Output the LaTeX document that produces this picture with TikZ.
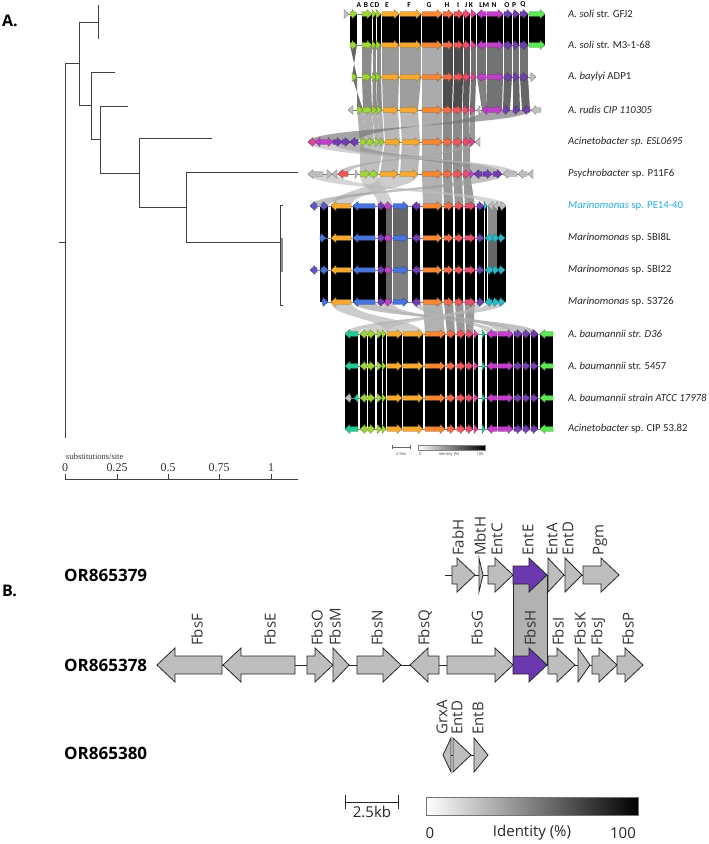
\documentclass[tikz,border=0pt]{standalone}
\usepackage{fontspec}
\setmainfont{Open Sans}
\newfontfamily\lab{Carlito}
\newfontfamily\tms{Liberation Serif}
\definecolor{lg}{RGB}{160,212,60}
\definecolor{oe}{RGB}{246,170,50}
\definecolor{og}{RGB}{246,135,55}
\definecolor{ch}{RGB}{243,110,70}
\definecolor{ci}{RGB}{238,88,88}
\definecolor{cj}{RGB}{232,78,110}
\definecolor{ck}{RGB}{222,70,150}
\definecolor{mg}{RGB}{192,64,200}
\definecolor{pu}{RGB}{112,62,175}
\definecolor{bg}{RGB}{95,232,85}
\definecolor{tq}{RGB}{40,200,150}
\definecolor{cy}{RGB}{40,185,200}
\definecolor{bl}{RGB}{70,115,220}
\definecolor{vi}{RGB}{95,85,195}
\definecolor{gy}{RGB}{190,190,190}
\definecolor{mcyan}{RGB}{41,171,226}
\definecolor{bgray}{RGB}{190,190,190}
\definecolor{bpur}{RGB}{108,56,175}

\newcommand\mkgene[7]{%
  \pgfmathsetmacro\gnL{abs((#2)-(#1))}%
  \pgfmathsetmacro\gnH{min(#7,\gnL)}%
  \pgfmathsetmacro\gnB{(#2)>(#1) ? (#2)-\gnH : (#2)+\gnH}%
  \filldraw[#4] (#1,#3-#5) -- (\gnB,#3-#5) -- (\gnB,#3-#6) -- (#2,#3) -- (\gnB,#3+#6) -- (\gnB,#3+#5) -- (#1,#3+#5) -- cycle;}
\newcommand\agene[4]{\mkgene{#1}{#2}{#3}{fill=#4,draw=#4!65!black,line width=0.3pt}{2.3}{4.5}{5}}
\newcommand\bgene[4]{\mkgene{#1}{#2}{#3}{fill=#4,draw=black!85,line width=0.8pt,line join=miter}{9}{17}{18}}
\newcommand\arow[2]{\foreach \a/\b/\c in {#2} {\agene{\a}{\b}{#1}{\c}}}
\newcommand\mkbands[3]{\foreach \a/\b/\c/\d/\s in {#3} {\fill[black!\s] (\a,#1) -- (\b,#1) -- (\d,#2) -- (\c,#2) -- cycle;}}
\newcommand\mkribs[3]{\foreach \a/\b/\c/\d/\s in {#3} {\fill[black!\s,opacity=0.65] (\a,#1) .. controls (\a,#1/2+#2/2) and (\c,#1/2+#2/2) .. (\c,#2) -- (\d,#2) .. controls (\d,#1/2+#2/2) and (\b,#1/2+#2/2) .. (\b,#1) -- cycle;}}

\begin{document}
\begin{tikzpicture}[x=1pt,y=-1pt,
  tree/.style={draw=black!75,line width=0.9pt},
  bb/.style={draw=black!50,line width=0.4pt},
  lbl/.style={anchor=west,inner sep=0,font=\lab\fontsize{10.7}{12}\selectfont,text=black!85},
  hdr/.style={inner sep=0,font=\lab\bfseries\fontsize{7.5}{8}\selectfont},
  glab/.style={rotate=90,anchor=west,inner sep=0,font=\fontsize{15}{18}\selectfont,text=black!80},
  orlab/.style={anchor=west,inner sep=0,font=\bfseries\fontsize{17}{20}\selectfont},
  panel/.style={anchor=west,inner sep=0,font=\bfseries\fontsize{16}{19}\selectfont}]
\useasboundingbox (0,0) rectangle (709,844);

% ---------------- Panel A ----------------
\node[panel] (pa) at (2,21) {A.};

% tree
\draw[tree] (59,242) -- (65,242);
\draw[tree] (65,63) -- (65,438);
\draw[tree] (65,63) -- (79,63);
\draw[tree] (79,22) -- (79,105);
\draw[tree] (79,22) -- (98,22);
\draw[tree] (98,5) -- (98,39);
\draw[tree] (79,105) -- (91,105);
\draw[tree] (91,72) -- (91,139);
\draw[tree] (91,72) -- (115,72);
\draw[tree] (91,139) -- (100,139);
\draw[tree] (100,106) -- (100,173);
\draw[tree] (100,106) -- (128,106);
\draw[tree] (100,173) -- (139,173);
\draw[tree] (139,138) -- (139,207);
\draw[tree] (139,138) -- (212,138);
\draw[tree] (139,207) -- (186,207);
\draw[tree] (186,172) -- (186,242);
\draw[tree] (186,172) -- (298,172);
\draw[tree] (186,242) -- (280,242);
\draw[tree] (280,205) -- (280,305);
\draw[tree] (280,205) -- (283,205);
\draw[tree] (280,305) -- (283,305);
\draw[draw=black!45,line width=2pt] (282,238) -- (282,272);

% axis
\draw[tree] (65,479) -- (298,479);
\foreach \x/\t [count=\i] in {65/0,117/0.25,168/0.5,219/0.75,271/1} {
  \draw[tree] (\x,479) -- (\x,474);
  \node[inner sep=0,font=\tms\fontsize{12}{13}\selectfont,text=black!80] (ax\i) at (\x,468) {\t};
}
\node[anchor=west,inner sep=0,font=\tms\fontsize{8.5}{10}\selectfont,text=black!80] (subs) at (66,457) {substitutions/site};

% ---- identity bands ----
\mkbands{14}{45}{350/357/350/357/100, 362/372/362/372/100, 372.5/376/372.5/376/100, 376.5/381/376.5/381/100, 382/399/382/399/100, 400/421/400/421/100, 422/442/422/442/100, 443/453/443/453/100, 454/463/454/463/100, 463.5/470/463.5/470/100, 471/476/471/476/100, 477/486/477/486/100, 487/503/487/503/100, 504/512/504/512/100, 513/519/513/519/100, 520/528/520/528/100, 529/545/529/545/100}
\mkbands{45}{77}{350/357/357/352/60, 362/372/362/371/45, 372.5/376/372.5/376/45, 376.5/381/376.5/381/45, 382/399/382/399/40, 400/421/400/421/38, 422/442/422/442/33, 443/453/443/453/70, 454/463/454/463/70, 463.5/470/463.5/470/65, 471/476/471/476/55, 477/486/477/486/55, 487/503/487/503/55, 504/512/504/512/55, 513/519/513/519/55, 520/528/520/528/55}
\mkbands{77}{110}{352/357/363/357/55, 362/371/363/372/45, 372.5/376/372.5/377/45, 376.5/381/377.5/382/45, 382/399/383/398/38, 400/421/400/418/38, 422/442/422/442/33, 443/453/443/452/70, 454/463/453/462/70, 463.5/470/463/469/65, 471/476/470/475/55, 477/486/482/487/50, 487/503/487/502/55, 504/512/503/510/60, 513/519/513/520/60, 520/528/522/530/60}
\mkbands{110}{142}{357/363/360/367/30, 363/372/367/374/30, 372/377/375/380/30, 377/382/380/384/30, 383/398/385/400/28, 400/418/402/420/28, 422/442/422/442/32, 443/452/443/452/45, 453/462/453/462/45, 463/469/463/470/45, 470/475/470/475/40}
\mkribs{110}{142}{482/530/358/308/55}
\mkbands{142}{174}{360/384/360/378/25, 385/400/380/398/28, 402/420/400/418/28, 422/442/422/442/32, 443/452/443/452/42, 453/462/453/462/42, 463/470/463/470/40}
\mkribs{142}{174}{333/358/474/502/45, 465/475/338/348/35, 308/333/503/517/28}
\mkbands{174}{206}{422/442/423/442/30, 443/452/444/453/40, 453/462/455/463/40, 463/470/465/475/40}
\mkribs{174}{206}{380/418/331/351/30, 474/502/310/328/38, 308/337/488/506/25, 360/378/378/392/28}
\foreach \ya/\yb/\sa/\sb/\sc in {206/238/60/45/100, 238/270/55/60/100, 270/302/50/100/100} {
  \mkbands{\ya}{\yb}{320/328/320/328/100, 331/351/331/351/100, 353/375/353/375/100, 378/386/378/386/100, 386/392/386/392/60, 393/408/393/408/\sa, 412/420/412/420/100, 423/442/423/442/100, 444/453/444/453/100, 455/463/455/463/100, 465/475/465/475/100, 477/484/477/484/100, 484.5/487/484.5/487/100, 488/497/488/497/\sb, 497/506/497/506/\sc}
}
\mkbands{302}{334}{423/442/425/445/30, 444/453/447/455/40, 455/463/457/465/40, 465/475/466/473/40}
\mkribs{302}{334}{331/351/387/423/30, 353/375/514/538/38, 378/392/487/497/32, 412/420/498/513/32, 488/505/345/358/32, 477/484/360/386/28}
\foreach \ya/\yb in {334/366, 366/398, 398/429} {
  \mkbands{\ya}{\yb}{345/358/345/358/100, 360/367/360/367/100, 368/375/368/375/100, 377/382/377/382/100, 382.5/386/382.5/386/100, 387/402/387/402/100, 403/423/403/423/100, 425/445/425/445/100, 447/455/447/455/100, 457/465/457/465/100, 466/473/466/473/100, 474/478/474/478/100, 482/485/482/485/100, 487/497/487/497/100, 498/513/498/513/100, 514/522/514/522/100, 523/530/523/530/100, 531/538/531/538/100, 540/553/540/553/100}
}

% ---- backbones ----
\foreach \xa/\xb/\y in {344/545/14, 350/545/45, 352/536/77, 348/541/110, 308/480/142, 308/533/174, 310/506/206, 320/505/238, 310/505/270, 322/505/302, 345/553/334, 345/553/366, 345/553/398, 345/553/429}
  \draw[bb] (\xa,\y) -- (\xb,\y);

% ---- genes ----
\arow{14}{344/349/gy, 350/357/lg, 362/372/lg, 372/376/lg, 376/381/lg, 382/399/oe, 400/421/oe, 422/442/og, 443/453/ch, 454/463/ci, 463/470/cj, 471/476/ck, 486/477/mg, 487/503/mg, 504/512/pu, 513/519/pu, 520/528/pu, 529/545/bg}
\arow{45}{350/357/lg, 362/372/lg, 372/376/lg, 376/381/lg, 382/399/oe, 400/421/oe, 422/442/og, 443/453/ch, 454/463/ci, 463/470/cj, 471/476/ck, 486/477/mg, 487/503/mg, 504/512/pu, 513/519/pu, 520/528/pu, 529/545/bg}
\arow{77}{352/357/lg, 362/371/lg, 372/376/lg, 376/381/lg, 382/399/oe, 400/421/oe, 422/442/og, 443/453/ch, 454/463/ci, 463/470/cj, 471/476/ck, 486/477/mg, 487/503/mg, 504/512/pu, 513/519/pu, 520/528/pu, 530/536/gy}
\arow{110}{353/348/gy, 357/363/lg, 363/372/lg, 372/377/lg, 377/382/lg, 383/398/oe, 400/418/oe, 422/442/og, 443/452/ch, 453/462/ci, 463/469/cj, 470/475/ck, 480/477/gy, 487/482/mg, 487/502/mg, 503/510/pu, 513/520/pu, 530/522/pu, 541/531/gy}
\arow{142}{315/308/ck, 320/315/mg, 320/333/mg, 333/342/pu, 342/350/pu, 358/350/pu, 360/367/lg, 367/374/lg, 375/380/lg, 380/384/lg, 385/400/oe, 402/420/oe, 422/442/og, 443/452/ch, 453/462/ci, 463/470/cj, 470/475/ck, 480/475/gy}
\arow{174}{323/308/gy, 327/332/gy, 337/332/gy, 348/338/ci, 355/358/gy, 360/370/lg, 370/378/lg, 380/398/oe, 400/418/oe, 422/442/og, 443/452/ch, 453/462/ci, 463/470/cj, 470/474/mg, 482/474/pu, 483/492/pu, 493/502/pu, 517/503/gy, 527/518/gy, 533/528/gy}
\arow{206}{317/310/vi, 321/328/vi, 351/331/oe, 375/353/bl, 378/385/pu, 385/392/mg, 393/408/bl, 420/412/pu, 423/442/og, 444/453/ch, 455/463/ci, 465/475/cj, 477/484/pu, 484/487/cy, 493/488/gy, 498/493/gy, 500/506/gy}
\arow{238}{320/326/bl, 351/331/oe, 375/353/bl, 378/385/pu, 385/392/mg, 393/408/bl, 420/412/pu, 423/442/og, 444/453/ch, 455/463/ci, 465/475/cj, 477/484/pu, 492/485/cy, 493/499/cy, 499/505/cy}
\arow{270}{317/310/vi, 321/328/bl, 351/331/oe, 375/353/bl, 378/385/pu, 385/392/mg, 393/408/bl, 420/412/pu, 423/442/og, 444/453/ch, 455/463/ci, 465/475/cj, 477/484/pu, 492/485/cy, 493/499/cy, 499/505/cy}
\arow{302}{322/328/bl, 351/331/oe, 375/353/bl, 378/385/pu, 385/392/mg, 393/408/bl, 420/412/pu, 423/442/og, 444/453/ch, 455/463/ci, 465/475/cj, 477/484/pu, 492/485/cy, 493/499/cy, 499/505/cy}
\foreach \y in {334,366,429} {
\arow{\y}{358/345/tq, 367/360/lg, 368/375/lg, 377/382/lg, 382/386/lg, 387/402/oe, 403/423/oe, 425/445/og, 447/455/ch, 457/465/ci, 466/473/cj, 474/478/ck, 482/485/tq, 497/487/mg, 498/513/mg, 514/522/pu, 523/530/pu, 531/538/pu, 553/540/bg}
}
\arow{398}{351/345/gy, 358/354/tq, 367/360/lg, 368/375/lg, 377/382/lg, 382/386/lg, 387/402/oe, 403/423/oe, 425/445/og, 447/455/ch, 457/465/ci, 466/473/cj, 474/478/ck, 482/485/tq, 497/487/mg, 498/513/mg, 514/522/pu, 523/530/pu, 531/538/pu, 553/540/bg}

% gene letters
\foreach \x/\t [count=\i] in {359/A,366/B,372/C,377/D,387/E,409/F,429/G,447/H,458/I,466/J,471/K,481/L,486/M,494/N,507/O,514/P,523/Q}
  \node[hdr] (h\i) at (\x,5) {\t};

% strain labels
\node[lbl] (l1) at (568,14) {\textit{A. soli} str. GFJ2};
\node[lbl] (l2) at (568,45) {\textit{A. soli} str. M3-1-68};
\node[lbl] (l3) at (568,77) {\textit{A. baylyi} ADP1};
\node[lbl] (l4) at (568,110) {\textit{A. rudis CIP 110305}};
\node[lbl] (l5) at (568,142) {\textit{Acinetobacter sp. ESL0695}};
\node[lbl] (l6) at (568,174) {\textit{Psychrobacter} sp. P11F6};
\node[lbl,text=mcyan] (l7) at (568,206) {\textit{Marinomonas} sp. PE14-40};
\node[lbl] (l8) at (568,238) {\textit{Marinomonas} sp. SBI8L};
\node[lbl] (l9) at (568,270) {\textit{Marinomonas} sp. SBI22};
\node[lbl] (l10) at (568,302) {\textit{Marinomonas} sp. S3726};
\node[lbl] (l11) at (568,334) {\textit{A. baumannii str. D36}};
\node[lbl] (l12) at (568,366) {\textit{A. baumannii} str. 5457};
\node[lbl] (l13) at (568,398) {\textit{A. baumannii strain ATCC 17978}};
\node[lbl] (l14) at (568,429) {\textit{Acinetobacter} sp. CIP 53.82};

% small legend A
\draw[black!60,line width=0.4pt] (392,447) -- (410,447) (392,445) -- (392,449) (410,445) -- (410,449);
\node[inner sep=0,font=\fontsize{4}{5}\selectfont,text=black!70] (sa) at (401,454) {2.5kb};
\shade[left color=white,right color=black] (418,445) rectangle (485,450);
\draw[black!50,line width=0.3pt] (418,445) rectangle (485,450);
\node[inner sep=0,font=\fontsize{4}{5}\selectfont,text=black!70] (ia0) at (420,454) {0};
\node[inner sep=0,font=\fontsize{4}{5}\selectfont,text=black!70] (ia1) at (449,454) {Identity (\%)};
\node[inner sep=0,font=\fontsize{4}{5}\selectfont,text=black!70] (ia2) at (480,454) {100};

% ---------------- Panel B ----------------
\node[panel] (pb) at (2,591) {B.};
\node[orlab] (or1) at (64,575) {OR865379};
\node[orlab] (or2) at (64,665) {OR865378};
\node[orlab] (or3) at (64,753) {OR865380};

\filldraw[fill=black!30,draw=black!85,line width=0.8pt] (513,575) rectangle (547,665);

\draw[black!85,line width=0.8pt] (445,575) -- (619,575);
\draw[black!85,line width=0.8pt] (157,665) -- (643,665);
\draw[black!85,line width=0.8pt] (443,755) -- (488,755);

\foreach \a/\b/\c in {452/475/bgray, 479/483/bgray, 488/513/bgray, 513/547/bpur, 548/564/bgray, 565/582/bgray, 583/619/bgray}
  \bgene{\a}{\b}{575}{\c};
\foreach \a/\b/\c in {222/157/bgray, 295/223/bgray, 307/333/bgray, 333/349/bgray, 357/401/bgray, 439/410/bgray, 447/513/bgray, 513/547/bpur, 548/575/bgray, 578/590/bgray, 592/617/bgray, 617/643/bgray}
  \bgene{\a}{\b}{665}{\c};
\foreach \a/\b/\c in {451/443/bgray, 453/471/bgray, 474/488/bgray}
  \bgene{\a}{\b}{755}{\c};

\foreach \x/\t [count=\i] in {458/FabH,480/MbtH,497/EntC,528/EntE,552/EntA,568/EntD,600/Pgm}
  \node[glab] (ta\i) at (\x,556) {\t};
\foreach \x/\t [count=\i] in {197/FbsF,270/FbsE,317/FbsO,335/FbsM,377/FbsN,425/FbsQ,477/FbsG,530/FbsH,558/FbsI,580/FbsK,598/FbsJ,628/FbsP}
  \node[glab] (tb\i) at (\x,646) {\t};
\foreach \x/\t [count=\i] in {442/GrxA,457/EntD,478/EntB}
  \node[glab] (tc\i) at (\x,735) {\t};

% legend B
\draw[black!85,line width=0.8pt] (345,802) -- (398,802) (345,795) -- (345,809) (398,795) -- (398,809);
\node[inner sep=0,font=\fontsize{15}{18}\selectfont,text=black!85] (sb) at (372,812) {2.5kb};
\shade[left color=white,right color=black] (426,797) rectangle (638,815);
\draw[black!55,line width=0.5pt] (426,797) rectangle (638,815);
\node[inner sep=0,font=\fontsize{15}{18}\selectfont,text=black!85] (ib0) at (430,833) {0};
\node[inner sep=0,font=\fontsize{15}{18}\selectfont,text=black!85] (ib1) at (532,833) {Identity (\%)};
\node[inner sep=0,font=\fontsize{15}{18}\selectfont,text=black!85] (ib2) at (623,833) {100};
\end{tikzpicture}
\end{document}
